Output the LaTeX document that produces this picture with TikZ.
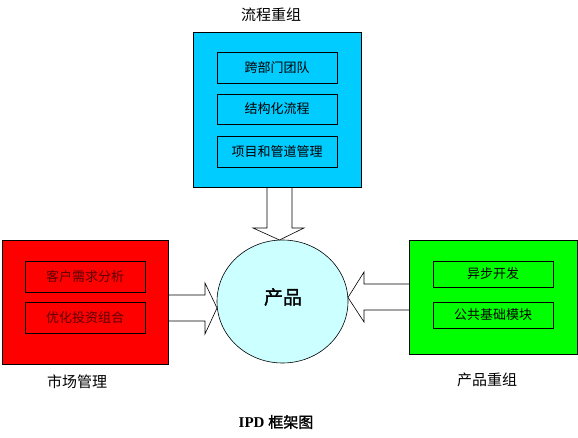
\documentclass[tikz,border=0pt]{standalone}
\usepackage{fontspec}
\setmainfont{Liberation Serif}
\newfontfamily\cjk{Noto Sans CJK SC}
\newfontfamily\cjkb{Noto Sans CJK SC}[FakeBold=1.5]
\usetikzlibrary{shapes.geometric}
\definecolor{topblue}{RGB}{0,204,255}
\definecolor{redbox}{RGB}{255,0,0}
\definecolor{greenbox}{RGB}{0,255,0}
\definecolor{circfill}{RGB}{204,255,255}
\definecolor{redtext}{RGB}{90,0,0}
\tikzset{
  bigbox/.style={draw=black, line width=0.8pt, inner sep=0pt, outer sep=0pt},
  itembox/.style={draw=black, line width=0.6pt, inner sep=0pt, outer sep=0pt, minimum width=120pt, font=\cjk\fontsize{13}{13}\selectfont},
  grouplabel/.style={font=\cjk\fontsize{15}{15}\selectfont, inner sep=0pt},
  blockarrow/.style={draw=black, fill=white, line width=0.6pt, line join=miter},
}
\begin{document}
\begin{tikzpicture}[x=1pt,y=-1pt]
\useasboundingbox (0,0) rectangle (578,438);
% centre
\node[ellipse, draw=black, line width=0.6pt, fill=circfill, minimum width=131pt, minimum height=123pt, inner sep=0pt] (core) at (282.5,301.5) {};
\node[font=\cjkb\fontsize{19}{19}\selectfont, inner sep=0pt] (corel) at (283,297) {产品};
% block arrows
\draw[blockarrow] (267,185) -- (267,228) -- (253,228) -- (279.5,240) -- (304,228) -- (292,228) -- (292,185);
\draw[blockarrow] (166,295) -- (205,295) -- (205,283) -- (217,308) -- (205,334) -- (205,321) -- (166,321);
\draw[blockarrow] (411,284) -- (364,284) -- (364,272) -- (348,297.5) -- (364,322) -- (364,310) -- (411,310);
% top group
\node[bigbox, fill=topblue, minimum width=168pt, minimum height=155pt] (proc) at (277,109.5) {};
\node[itembox, minimum height=31pt] (p1) at (277,67.5) {跨部门团队};
\node[itembox, minimum height=30pt] (p2) at (277,109) {结构化流程};
\node[itembox, minimum height=31pt] (p3) at (277,151.5) {项目和管道管理};
\node[grouplabel] (procl) at (271,15) {流程重组};
% left group
\node[bigbox, fill=redbox, minimum width=166pt, minimum height=124pt] (mkt) at (85,302) {};
\node[itembox, minimum height=31pt, text=redtext] (m1) at (85,276.5) {客户需求分析};
\node[itembox, minimum height=31pt, text=redtext] (m2) at (85,317.5) {优化投资组合};
\node[grouplabel] (mktl) at (77,382) {市场管理};
% right group
\node[bigbox, fill=greenbox, minimum width=168pt, minimum height=114pt] (prd) at (493,297) {};
\node[itembox, minimum height=26pt] (r1) at (493,274) {异步开发};
\node[itembox, minimum height=26pt] (r2) at (493,315) {公共基础模块};
\node[grouplabel] (prdl) at (487,380) {产品重组};
% title
\node[inner sep=0pt, font=\fontsize{15}{15}\selectfont] (title) at (276,422) {\textbf{IPD} {\cjkb 框架图}};
\end{tikzpicture}
\end{document}
